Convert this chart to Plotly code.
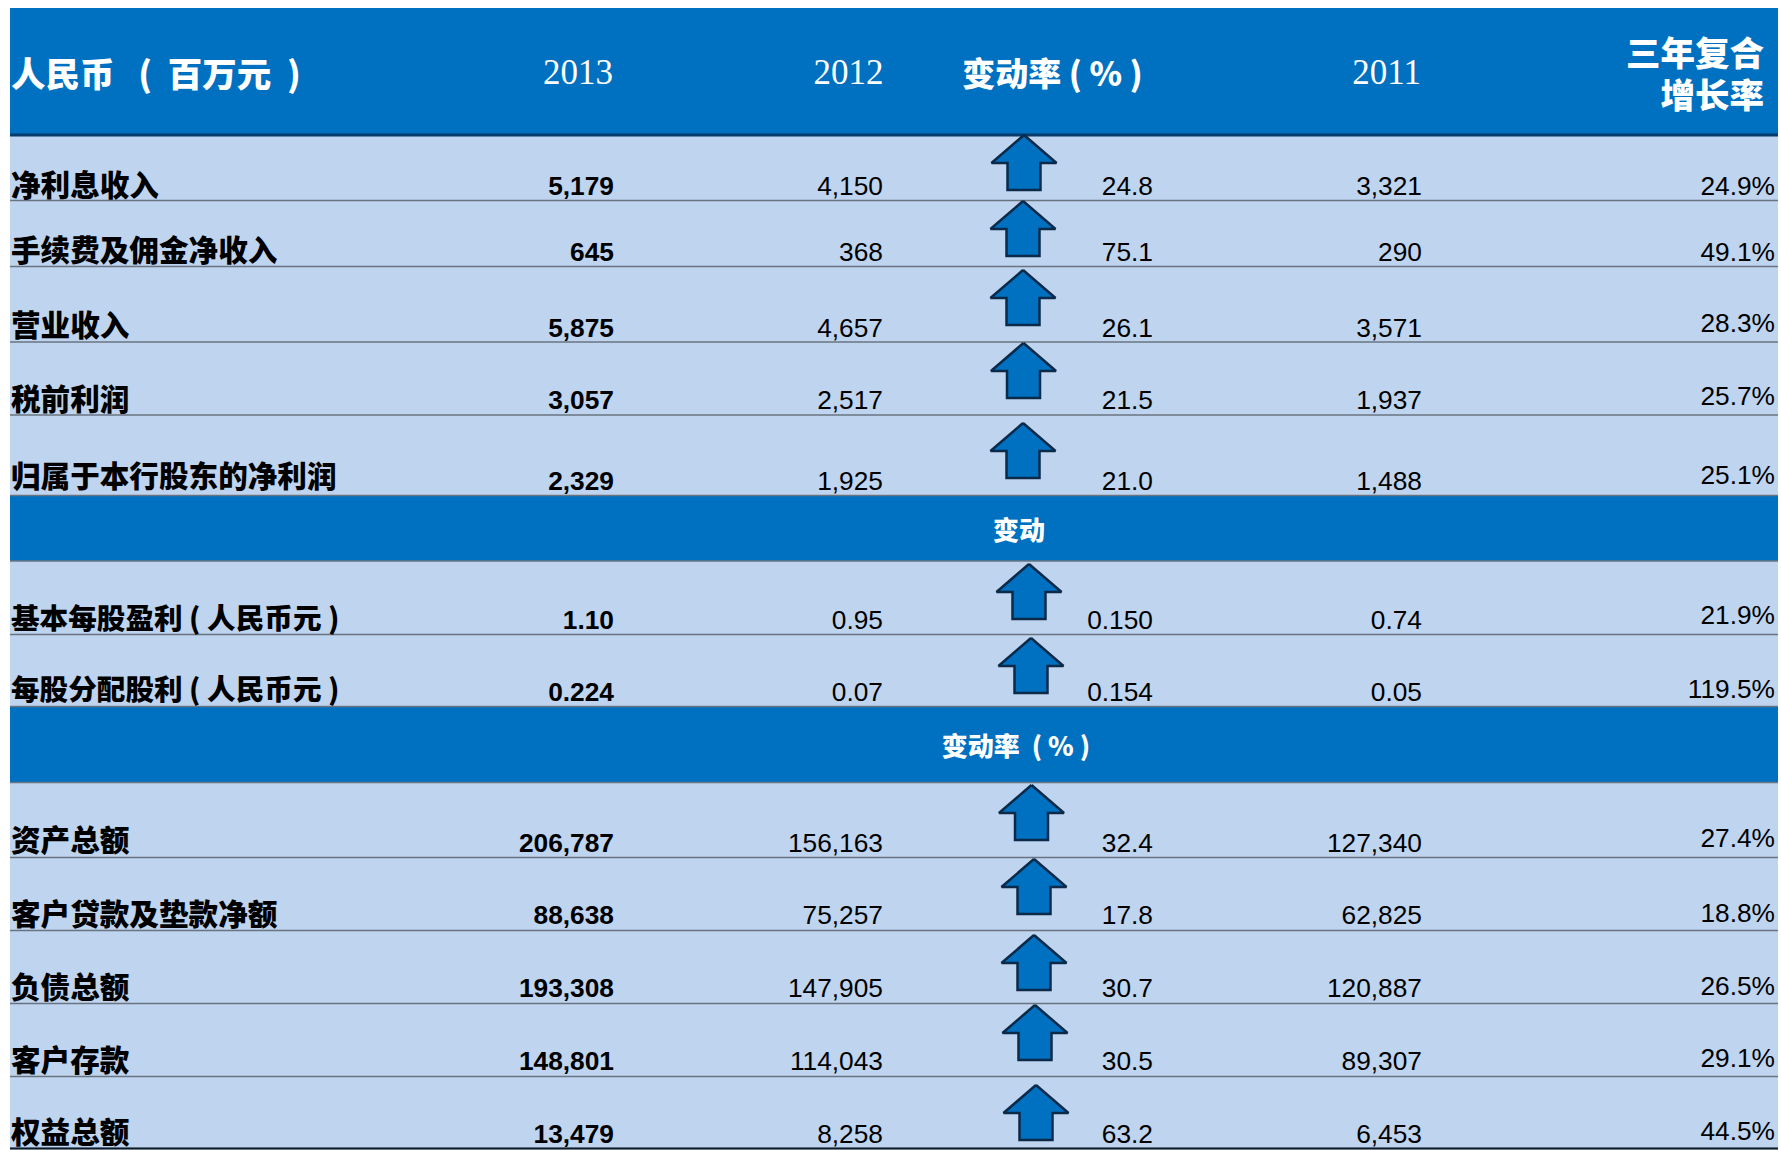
import plotly.graph_objects as go

# ---- data ----
row_labels = ["净利息收入", "手续费及佣金净收入", "营业收入", "税前利润", "归属于本行股东的净利润",
              "基本每股盈利 ( 人民币元 )", "每股分配股利 ( 人民币元 )",
              "资产总额", "客户贷款及垫款净额", "负债总额", "客户存款", "权益总额"]
col_2013 = ["5,179", "645", "5,875", "3,057", "2,329", "1.10", "0.224",
            "206,787", "88,638", "193,308", "148,801", "13,479"]
col_2012 = ["4,150", "368", "4,657", "2,517", "1,925", "0.95", "0.07",
            "156,163", "75,257", "147,905", "114,043", "8,258"]
col_change = ["24.8", "75.1", "26.1", "21.5", "21.0", "0.150", "0.154",
              "32.4", "17.8", "30.7", "30.5", "63.2"]
col_2011 = ["3,321", "290", "3,571", "1,937", "1,488", "0.74", "0.05",
            "127,340", "62,825", "120,887", "89,307", "6,453"]
col_cagr = ["24.9%", "49.1%", "28.3%", "25.7%", "25.1%", "21.9%", "119.5%",
            "27.4%", "18.8%", "26.5%", "29.1%", "44.5%"]
header_title = "人民币   (  百万元  )"
header_years = ["2013", "2012", "2011"]
header_change = "变动率 ( % )"
header_cagr = ["三年复合", "增长率"]
band_titles = ["变动", "变动率  ( % )"]

# ---- layout of the table (page pixels) ----
W, H = 1781, 1150
LEFT, RIGHT = 10, 1778
TOP, HEAD_BOTTOM = 8, 135
row_lines = [200.5, 266.5, 342, 415, 495.5, 634.5, 706.5, 857.5, 930.5, 1003.5, 1076.5, 1148.5]
bands = [(495.5, 561), (706.5, 782.5)]
num_y = [188, 254, 330, 402, 483, 622, 694, 845, 917, 990, 1063, 1136]
cagr_y = [188, 254, 325.5, 398, 477, 617.5, 691, 840, 915, 988, 1060, 1133]
label_y = [188.5, 253.5, 328.5, 402.5, 479.5, 622, 693, 843.5, 918, 991, 1064, 1135.5]
label_size = [29.6, 29.6, 29.6, 29.6, 29.6, 28.6, 28.6, 29.6, 29.6, 29.6, 29.6, 29.6]
x_label, x_2013, x_2012, x_change, x_2011, x_cagr = 11, 614, 883, 1153, 1422, 1775
arrow_x = [1024, 1023, 1023, 1023.5, 1023, 1029, 1031, 1031.5, 1034, 1034, 1035, 1036]
arrow_tip = [135, 201, 270, 343, 423, 564, 638, 785, 859, 935, 1005, 1085]

BLUE = "#0070C0"
PALE = "#BFD4EF"
GREY = "#6A7480"
SANS = "Liberation Sans"
CJK = "Noto Sans CJK SC"

shapes = [dict(type="rect", x0=LEFT, x1=RIGHT, y0=TOP, y1=H - 1.5, fillcolor=PALE, line_width=0, layer="below"),
          dict(type="rect", x0=LEFT, x1=RIGHT, y0=TOP, y1=HEAD_BOTTOM, fillcolor=BLUE, line_width=0, layer="below")]
for y0, y1 in bands:
    shapes.append(dict(type="rect", x0=LEFT, x1=RIGHT, y0=y0, y1=y1, fillcolor=BLUE, line_width=0, layer="below"))
for y in row_lines + [b[1] for b in bands]:
    shapes.append(dict(type="line", x0=LEFT, x1=RIGHT, y0=y, y1=y, line=dict(color=GREY, width=1.5), layer="below"))
shapes.append(dict(type="line", x0=LEFT, x1=RIGHT, y0=HEAD_BOTTOM, y1=HEAD_BOTTOM,
                   line=dict(color="#073B6B", width=3), layer="below"))
shapes.append(dict(type="line", x0=LEFT, x1=RIGHT, y0=row_lines[-1], y1=row_lines[-1],
                   line=dict(color="#0A1A2A", width=2), layer="below"))

fig = go.Figure()

# arrows
ax, ay = [], []
HEAD_W, SHAFT_W, HEAD_H, ARROW_H = 32.5, 16.5, 28, 55
for cx, tip in zip(arrow_x, arrow_tip):
    ax += [cx, cx + HEAD_W, cx + SHAFT_W, cx + SHAFT_W, cx - SHAFT_W, cx - SHAFT_W, cx - HEAD_W, cx, None]
    ay += [tip, tip + HEAD_H, tip + HEAD_H, tip + ARROW_H, tip + ARROW_H, tip + HEAD_H, tip + HEAD_H, tip, None]
fig.add_trace(go.Scatter(x=ax, y=ay, mode="lines", fill="toself", fillcolor=BLUE,
                         line=dict(color="#0B2A4A", width=2.5), hoverinfo="skip"))


def text_trace(xs, ys, texts, pos, family, size, color="black", weight=400):
    fig.add_trace(go.Scatter(x=xs, y=ys, text=texts, mode="text", textposition=pos,
                             textfont=dict(family=family, size=size, color=color, weight=weight),
                             hoverinfo="skip"))


n = len(row_labels)
text_trace([x_label] * n, label_y, row_labels, "middle right", CJK, label_size, weight=900)
text_trace([x_2013] * n, num_y, col_2013, "middle left", SANS, 26.3, weight=700)
text_trace([x_2012] * n, num_y, col_2012, "middle left", SANS, 26.3)
text_trace([x_change] * n, num_y, col_change, "middle left", SANS, 26.3)
text_trace([x_2011] * n, num_y, col_2011, "middle left", SANS, 26.3)
text_trace([x_cagr] * n, cagr_y, col_cagr, "middle left", SANS, 26.3)

# header
text_trace([x_label], [78], [header_title], "middle right", CJK, 34.5, "white", 900)
text_trace([x_2013 - 1, x_2012 + 0.5, x_2011 - 1], [75.5, 75.5, 75.5], header_years, "middle left", "Liberation Serif", 35, "white")
text_trace([1052.5], [78], [header_change], "middle center", CJK, 33, "white", 900)
text_trace([1764, 1764], [57.5, 99.5], header_cagr, "middle left", CJK, 34.5, "white", 900)
text_trace([1019, 1016], [533, 749], band_titles, "middle center", CJK, 26, "white", 900)

fig.update_layout(width=W, height=H, margin=dict(l=0, r=0, t=0, b=0), showlegend=False,
                  paper_bgcolor="white", plot_bgcolor="white", shapes=shapes,
                  xaxis=dict(range=[0, W], visible=False, fixedrange=True),
                  yaxis=dict(range=[H, 0], visible=False, fixedrange=True))
fig.write_html("out.html", config={"displayModeBar": False},
               post_script="document.body.style.margin='0';document.body.style.overflow='hidden';")
